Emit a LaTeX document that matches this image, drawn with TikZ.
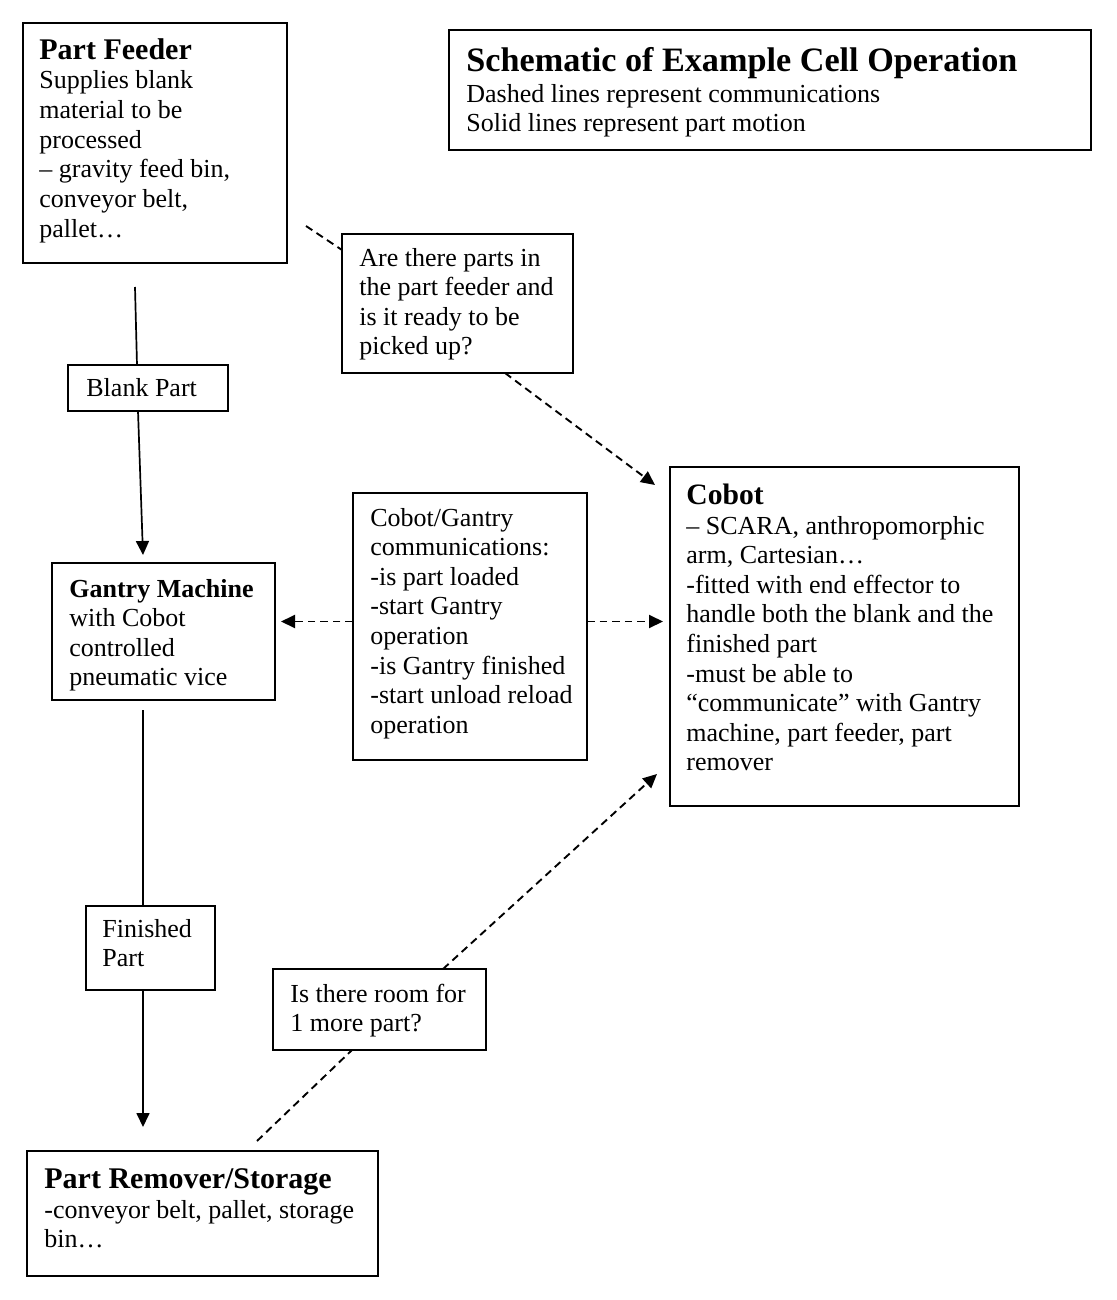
\documentclass[tikz,border=0pt]{standalone}
\usepackage{fontspec}
\setmainfont{Liberation Serif}
\usetikzlibrary{arrows.meta,calc}
\newcommand\bodyfont{\fontsize{13}{14.8}\selectfont}
\begin{document}
\begin{tikzpicture}[x=0.5pt,y=-0.5pt,
 box/.style={draw, line width=1.35pt, anchor=north west, inner sep=0pt, outer sep=0pt},
 txt/.style={anchor=north west, inner sep=0pt, align=left, font=\bodyfont},
 motion/.style={line width=0.85pt},
 motionarrow/.style={motion, -{Triangle[length=7pt,width=6.5pt]}},
 comm/.style={line width=0.95pt, dash pattern=on 3.8pt off 2.5pt},
 commarrow/.style={comm, -{Triangle[length=7pt,width=6.5pt]}},
]
\useasboundingbox (0,0) rectangle (1117,1300);

% Part Feeder
\node[box, minimum width=132pt, minimum height=120pt] (pf) at (23,23) {};
\node[txt] (pft) at (39,38) {{\fontsize{15}{15}\selectfont\bfseries\strut Part Feeder}\\Supplies blank\\material to be\\processed\\– gravity feed bin,\\conveyor belt,\\pallet…};

% Title
\node[box, minimum width=321pt, minimum height=60pt] (title) at (449,30) {};
\node[txt] (titlet) at (466,47) {{\fontsize{17.1}{15}\selectfont\bfseries\strut Schematic of Example Cell Operation}\\[0.5pt]Dashed lines represent communications\\Solid lines represent part motion};

% Question 1
\node[box, minimum width=115.5pt, minimum height=69.5pt] (q1) at (342,234) {};
\node[txt] (q1t) at (359,245) {\strut Are there parts in\\the part feeder and\\is it ready to be\\picked up?};

% Blank Part
\node[box, minimum width=80pt, minimum height=23pt] (blank) at (68,365) {};
\node[font=\bodyfont, inner sep=0pt, anchor=west] (blankt) at ($(blank.west)+(18,0)$) {Blank Part};

% Gantry Machine
\node[box, minimum width=111.5pt, minimum height=68.5pt] (gantry) at (52,563) {};
\node[txt] (gantryt) at (69,576) {{\bfseries\strut Gantry Machine}\\with Cobot\\controlled\\pneumatic vice};

% Communications
\node[box, minimum width=117pt, minimum height=133.5pt] (comm) at (353,493) {};
\node[txt] (commt) at (370,505) {\strut Cobot/Gantry\\communications:\\-is part loaded\\-start Gantry\\operation\\-is Gantry finished\\-start unload reload\\operation};

% Cobot
\node[box, minimum width=174.5pt, minimum height=169.5pt] (cobot) at (670,467) {};
\node[txt] (cobott) at (686,483) {{\fontsize{14.8}{15}\selectfont\bfseries\strut Cobot}\\– SCARA, anthropomorphic\\arm, Cartesian…\\-fitted with end effector to\\handle both the blank and the\\finished part\\-must be able to\\“communicate” with Gantry\\machine, part feeder, part\\remover};

% Finished Part
\node[box, minimum width=64.5pt, minimum height=42pt] (fin) at (86,906) {};
\node[txt] (fint) at (102,916) {\strut Finished\\Part};

% Question 2
\node[box, minimum width=106.5pt, minimum height=40.5pt] (q2) at (273,969) {};
\node[txt] (q2t) at (290,981) {\strut Is there room for\\1 more part?};

% Part Remover
\node[box, minimum width=175.5pt, minimum height=62.5pt] (rem) at (27,1151) {};
\node[txt] (remt) at (44,1167) {{\fontsize{15}{15}\selectfont\bfseries\strut Part Remover/Storage}\\-conveyor belt, pallet, storage\\bin…};

% part motion
\coordinate (a1) at (135,287);
\draw[motion] (a1) -- ($(blank.north west)+(69,0)$);
\draw[motionarrow] ($(blank.south west)+(70,0)$) -- ($(gantry.north west)+(91,-8)$);
\draw[motion] ($(gantry.south west)+(91,10)$) -- ($(fin.north west)+(57,0)$);
\draw[motionarrow] ($(fin.south west)+(57,0)$) -- ($(rem.north west)+(116,-24)$);

% communications
\coordinate (d1) at (306,226);
\draw[comm] (d1) -- ($(q1.north west)+(0,16)$);
\draw[commarrow] ($(q1.south west)+(163,0)$) -- ($(cobot.north west)+(-15,18)$);
\draw[commarrow] ($(comm.west)+(0,-5)$) -- ($(gantry.east)+(6,-10)$);
\draw[commarrow] ($(comm.east)+(0,-5)$) -- ($(cobot.west)+(-7,-15)$);
\draw[commarrow] ($(q2.north west)+(170,0)$) -- ($(cobot.south west)+(-13,-32)$);
\coordinate (d2) at (257,1141);
\draw[comm] (d2) -- ($(q2.south west)+(79,0)$);
\end{tikzpicture}
\end{document}
